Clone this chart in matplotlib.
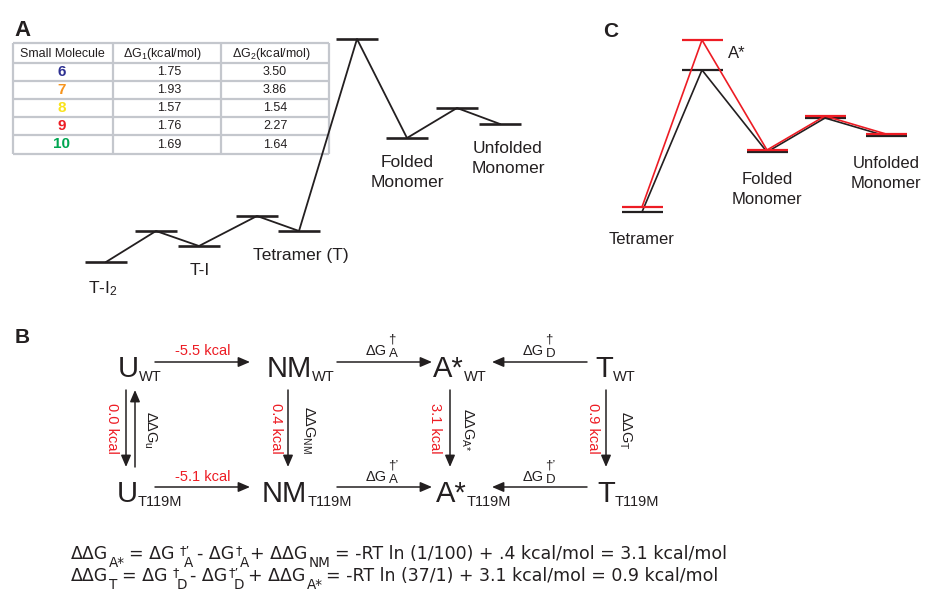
import matplotlib
matplotlib.use('Agg')
import numpy as np
import matplotlib.pyplot as plt

plt.rcParams['font.family'] = ['Liberation Sans', 'DejaVu Sans']
plt.rcParams['mathtext.fontset'] = 'custom'
plt.rcParams['mathtext.rm'] = 'Liberation Sans'
plt.rcParams['mathtext.it'] = 'Liberation Sans'
plt.rcParams['mathtext.sf'] = 'Liberation Sans'
plt.rcParams['mathtext.bf'] = 'Liberation Sans:bold'

INK = '#231f20'
RED = '#ed1c24'

# ======================
# DATA
# ======================
# panel A: energy landscape (reaction coordinate, relative free energy)
a_labels = ['T-I$_2$', '', 'T-I', '', 'Tetramer (T)', '', 'Folded\nMonomer', '', 'Unfolded\nMonomer']
a_pos = np.array([0, 1.0, 1.86, 3.02, 3.86, 5.02, 6.02, 7.02, 7.88])
a_energy = np.array([0, 3.1, 1.6, 4.6, 3.1, 22.3, 12.4, 15.4, 13.8])

# panel A table
molecules = ['6', '7', '8', '9', '10']
mol_colors = ['#2e3192', '#f7941d', '#f9e31c', '#ed1c24', '#00a651']
dg1 = [1.75, 1.93, 1.57, 1.76, 1.69]
dg2 = [3.50, 3.86, 1.54, 2.27, 1.64]
table_header = ['Small Molecule', r'$\Delta$G$_1$(kcal/mol)', r'$\Delta$G$_2$(kcal/mol)']

# panel C: WT (black) vs T119M (red)
c_labels = ['Tetramer', '', 'Folded\nMonomer', '', 'Unfolded\nMonomer']
c_pos = np.array([0, 1.2, 2.5, 3.66, 4.88])
c_wt = np.array([0, 14.2, 6.0, 9.4, 7.6])
c_mut = np.array([0.5, 17.2, 6.2, 9.6, 7.8])

# panel B: thermodynamic cycle
b_species = ['U', 'NM', 'A*', 'T']
b_rows = ['WT', 'T119M']
b_red_h = ['-5.5 kcal', '-5.1 kcal']
b_barrier = [[('A', '†'), ('D', '†')], [('A', '†’'), ('D', '†’')]]
b_vert_red = ['0.0 kcal', '0.4 kcal', '3.1 kcal', '0.9 kcal']
b_vert_sym = [r'$\Delta\Delta G_{u}$', r'$\Delta\Delta G_{NM}$',
              r'$\Delta\Delta G_{A{*}}$', r'$\Delta\Delta G_{T}$']

# equations: (text, role)
eq_lines = [
    [('ΔΔG', 'n'), ('A*', 'sub'), ('= ΔG', 'n'), ('†’', 'supgap'), ('A', 'subgap'),
     ('- ΔG', 'n'), ('†', 'sup'), ('A', 'sub2'), ('+ ΔΔG', 'n0'), ('NM', 'sub'),
     ('= -RT ln (1/100) + .4 kcal/mol = 3.1 kcal/mol', 'n')],
    [('ΔΔG', 'n'), ('T', 'sub'), ('= ΔG', 'n'), ('†', 'supgap'), ('D', 'subgap'),
     ('- ΔG', 'n'), ('†’', 'sup'), ('D', 'sub2'), ('+ ΔΔG', 'n'), ('A*', 'sub'),
     ('= -RT ln (37/1) + 3.1 kcal/mol = 0.9 kcal/mol', 'n')],
]

# ======================
# FIGURE
# ======================
fig = plt.figure(figsize=(9.25, 6), dpi=100)


def overlay(xlim, ylim):
    a = fig.add_axes([0, 0, 1, 1])
    a.set_xlim(*xlim)
    a.set_ylim(*ylim)
    a.axis('off')
    a.patch.set_alpha(0)
    return a


# page layout axes in pixels
ax = overlay((0, 925), (600, 0))
PT = 0.72  # points per pixel


def chain(x, y, pieces, color=INK, family=None):
    """pieces: (text, fontsize, dx_px, dy_px, advance)"""
    anchor = None
    kw = dict(ha='left', va='baseline', color=color, textcoords='offset points')
    if family:
        kw['family'] = family
    for text, fs, dx, dy, adv in pieces:
        if anchor is None:
            t = ax.annotate(text, xy=(x, y), xycoords='data',
                            xytext=(dx * PT, dy * PT), fontsize=fs, **kw)
        else:
            t = ax.annotate(text, xy=(1, y), xycoords=(anchor, ax.transData),
                            xytext=(dx * PT, dy * PT), fontsize=fs, **kw)
        if adv:
            anchor = t
    return anchor


ax.text(14, 36, 'A', fontsize=16, fontweight='bold', color=INK)
ax.text(603, 37, 'C', fontsize=15, fontweight='bold', color=INK)
ax.text(15, 343, 'B', fontsize=15, fontweight='bold', color=INK)

# ======================
# PANEL A
# ======================
ax_a = overlay((-106 / 50, (925 - 106) / 50), (-33.8, 26.2))
ax_a.plot(a_pos, a_energy, color=INK, lw=1.3)
ax_a.hlines(a_energy, a_pos - 0.42, a_pos + 0.42, color=INK, lw=1.9)
a_dx = [-0.06, 0, 0.02, 0, 0.04, 0, 0, 0, 0.16]
for lab, x, e, dx in zip(a_labels, a_pos, a_energy, a_dx):
    if lab:
        ax_a.text(x + dx, e - 1.7, lab, ha='center', va='top', fontsize=12.5,
                  color=INK, linespacing=1.4)

# table
col_x = [13, 113, 221, 329]
row_y = [43, 63, 81, 99, 117, 135, 154]
grid = '#c4c7cd'
ax.hlines(row_y, col_x[0], col_x[-1], color=grid, lw=1.6, zorder=1)
ax.vlines(col_x, row_y[0], row_y[-1], color=grid, lw=1.6, zorder=1)
hdr_x = [62, 162, 271]
for t, x in zip(table_header, hdr_x):
    ax.text(x, 54, t, ha='center', va='center', fontsize=9, color=INK)
for i, (m, c, v1, v2) in enumerate(zip(molecules, mol_colors, dg1, dg2)):
    yc = (row_y[i + 1] + row_y[i + 2]) / 2
    ax.text(62, yc, m, ha='center', va='center', fontsize=11,
            fontweight='bold', color=c)
    ax.text(169, yc, f'{v1:.2f}', ha='center', va='center', fontsize=9, color=INK)
    ax.text(275, yc, f'{v2:.2f}', ha='center', va='center', fontsize=9, color=INK)

# ======================
# PANEL C
# ======================
ax_c = overlay((-642 / 50, (925 - 642) / 50), ((212 - 600) / 10, 212 / 10))
ax_c.plot(c_pos, c_wt, color=INK, lw=1.2)
ax_c.hlines(c_wt, c_pos - 0.41, c_pos + 0.41, color=INK, lw=1.6)
ax_c.plot(c_pos, c_mut, color=RED, lw=1.2)
ax_c.hlines(c_mut, c_pos - 0.41, c_pos + 0.41, color=RED, lw=1.6)
for lab, x, e in zip(c_labels, c_pos, c_wt):
    if lab:
        ax_c.text(x, e - 2.0, lab, ha='center', va='top', fontsize=12,
                  color=INK, linespacing=1.4)
ax_c.text(c_pos[1] + 0.7, c_mut[1] - 1.4, 'A*', ha='center', va='center',
          fontsize=12, color=INK)

# ======================
# PANEL B
# ======================
row_base = [377, 502]
main_left = [[118, 267, 433, 595], [117, 262, 436, 597]]
for r, sub in enumerate(b_rows):
    for k, sp in enumerate(b_species):
        chain(main_left[r][k], row_base[r],
              [(sp, 21, 0, 0, True), (sub, 10.5, 0, -4, True)])


def arrow(x0, y0, x1, y1):
    ax.annotate('', xy=(x1, y1), xytext=(x0, y0),
                arrowprops=dict(arrowstyle='-|>,head_length=0.7,head_width=0.3',
                                color=INK, lw=1.1, shrinkA=0, shrinkB=0,
                                mutation_scale=10))


arrow_y = [362, 487]
lab_base = [355, 481]
spans = [(155, 250), (337, 432), (587, 492)]
barrier_left = [366, 523]
for r in range(2):
    for k, (x0, x1) in enumerate(spans):
        arrow(x0, arrow_y[r], x1, arrow_y[r])
    ax.text(203, lab_base[r], b_red_h[r], ha='center', va='baseline',
            fontsize=10.5, color=RED)
    for k, (lo, hi) in enumerate(b_barrier[r]):
        chain(barrier_left[k], lab_base[r],
              [('ΔG', 10.5, 0, 0, True), (hi, 9.5, 1, 12, False),
               (lo, 9.5, 2, -2, True)])

vx = [126, 288, 450, 606]
red_x = [112, 276, 435, 593]
sym_x = [150, 308, 467, 625]
for k in range(4):
    arrow(vx[k], 390, vx[k], 467)
    ax.text(red_x[k], 428, b_vert_red[k], rotation=-90, ha='center', va='center',
            fontsize=10.5, color=RED)
    ax.text(sym_x[k], 430, b_vert_sym[k], rotation=-90, ha='center', va='center',
            fontsize=10.5, color=INK)
arrow(135, 467, 135, 390)

# ======================
# EQUATIONS
# ======================
EQ = 12.5
role_style = {
    'n': (EQ, 4, 0, True), 'n0': (EQ, 1, 0, True),
    'sub': (EQ * 0.78, 1, -8, True), 'sub2': (EQ * 0.78, 6, -8, True),
    'subgap': (EQ * 0.78, 9, -8, True),
    'sup': (EQ * 0.72, 1, 5, False), 'supgap': (EQ * 0.72, 5, 5, False),
}
for line, yb in zip(eq_lines, [559, 581]):
    pieces = []
    for text, role in line:
        fs, dx, dy, adv = role_style[role]
        pieces.append((text, fs, dx, dy, adv))
    pieces[0] = (pieces[0][0], EQ, 0, 0, True)
    chain(71, yb, pieces, family='DejaVu Sans')

fig.savefig('out.png', dpi=100)
